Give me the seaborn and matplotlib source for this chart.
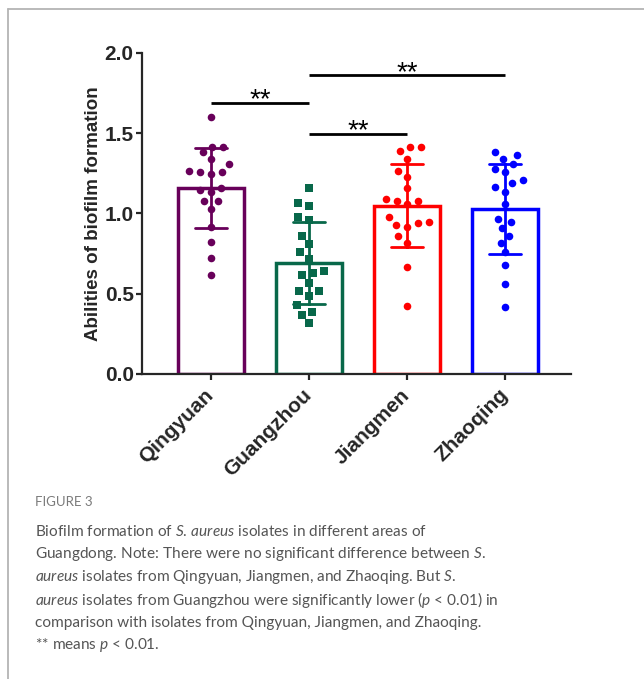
import numpy as np
import pandas as pd
import seaborn as sns
import matplotlib.pyplot as plt
from matplotlib.lines import Line2D
from matplotlib.ticker import FormatStrFormatter

# values (20 isolates per area)
areas = ["Qingyuan", "Guangzhou", "Jiangmen", "Zhaoqing"]
qingyuan = [1.603, 1.416, 1.416, 1.385, 1.340, 1.306, 1.267, 1.257, 1.257, 1.246,
            1.146, 1.136, 1.157, 1.076, 1.076, 1.026, 0.916, 0.820, 0.725, 0.617]
guangzhou = [1.159, 1.049, 1.065, 0.978, 0.957, 0.858, 0.808, 0.758, 0.718, 0.640,
             0.619, 0.629, 0.569, 0.519, 0.519, 0.488, 0.428, 0.388, 0.368, 0.318]
jiangmen = [1.416, 1.416, 1.387, 1.337, 1.267, 1.227, 1.157, 1.078, 1.078, 1.088,
            1.057, 0.947, 0.928, 0.918, 0.939, 0.978, 0.858, 0.818, 0.665, 0.426]
zhaoqing = [1.385, 1.367, 1.337, 1.306, 1.277, 1.257, 1.207, 1.188, 1.167, 1.136,
            1.057, 0.968, 0.947, 0.908, 0.858, 0.818, 0.758, 0.677, 0.559, 0.419]
colors = ["#68005a", "#08684a", "#ff0000", "#0000ff"]
markers = ["o", "s", "o", "o"]

# significance brackets: (from area, to area, height)
comparisons = [("Qingyuan", "Guangzhou", 1.69),
               ("Guangzhou", "Jiangmen", 1.497),
               ("Guangzhou", "Zhaoqing", 1.861)]

caption_title = "FIGURE 3"
caption_lines = [
    r"Biofilm formation of $\mathit{S.\,aureus}$ isolates in different areas of",
    r"Guangdong. Note: There were no significant difference between $\mathit{S.}$",
    r"$\mathit{aureus}$ isolates from Qingyuan, Jiangmen, and Zhaoqing. But $\mathit{S.}$",
    r"$\mathit{aureus}$ isolates from Guangzhou were significantly lower ($\mathit{p}$ < 0.01) in",
    r"comparison with isolates from Qingyuan, Jiangmen, and Zhaoqing.",
    r"** means $\mathit{p}$ < 0.01.",
]

df = pd.DataFrame({
    "area": np.repeat(areas, 20),
    "value": qingyuan + guangzhou + jiangmen + zhaoqing,
})

sns.set_style("ticks")
plt.rcParams["font.family"] = ["Liberation Sans", "DejaVu Sans"]
plt.rcParams["mathtext.fontset"] = "custom"
plt.rcParams["mathtext.rm"] = "Lato"
plt.rcParams["mathtext.it"] = "Lato:italic"

fig = plt.figure(figsize=(6.44, 6.79), dpi=100)
ax = fig.add_axes([0.2205, 0.4492, 0.6661, 0.4728])

for area, color, marker in zip(areas, colors, markers):
    sub = df[df["area"] == area]
    sns.barplot(data=sub, x="area", y="value", order=areas, color=color,
                fill=False, width=0.67, linewidth=2.5, errorbar="sd",
                capsize=0.33, err_kws={"color": color, "linewidth": 2}, ax=ax)
    # swarm laid out with a wider spacing, markers shrunk below (Prism look)
    sns.swarmplot(data=sub, x="area", y="value", order=areas, color=color,
                  marker=marker, size=7.6, linewidth=0, ax=ax)

# significance bars
for a, b, h in comparisons:
    x0, x1 = areas.index(a), areas.index(b)
    ax.plot([x0, x1], [h, h], color="black", lw=2, solid_capstyle="butt")
    ax.text((x0 + x1) / 2, h - 0.03, "**", ha="center", va="baseline",
            fontsize=20, color="black")

ax.set_xlim(-0.70, 3.67)
ax.set_ylim(0, 2.0)
ax.set_yticks([0, 0.5, 1.0, 1.5, 2.0])
ax.yaxis.set_major_formatter(FormatStrFormatter("%.1f"))
ax.set_xlabel("")
ax.set_ylabel("Abilities of biofilm formation", fontsize=13.5, fontweight="bold",
              labelpad=2)
sns.despine(ax=ax)
for side in ["left", "bottom"]:
    ax.spines[side].set_linewidth(1.6)
ax.tick_params(axis="both", width=1.6, length=4, labelsize=15, pad=2)
ax.tick_params(axis="x", pad=9)
for lbl in ax.get_yticklabels():
    lbl.set_fontweight("bold")
for lbl in ax.get_xticklabels():
    lbl.set_fontweight("bold")
    lbl.set_rotation(45)
    lbl.set_ha("right")
    lbl.set_va("center")
    lbl.set_rotation_mode("anchor")

# page frame (top and left rule)
fig.add_artist(Line2D([7.5 / 644, 1], [1 - 8.5 / 679, 1 - 8.5 / 679],
                      transform=fig.transFigure, color="#b4b4b4", lw=1.3))
fig.add_artist(Line2D([7.5 / 644, 7.5 / 644], [0, 1 - 8.5 / 679],
                      transform=fig.transFigure, color="#b4b4b4", lw=1.3))

# caption
fig.text(35 / 644, 1 - 502 / 679, caption_title, fontsize=9.5, color="#7a7a7a",
         family=["Lato", "DejaVu Sans"], va="center")
for i, line in enumerate(caption_lines):
    fig.text(35 / 644, 1 - (531.5 + 22.8 * i) / 679, line, fontsize=11.1,
             color="#555555", family=["Lato", "DejaVu Sans"], va="center")

# fix the swarm layout, then shrink the markers so gaps remain between them
fig.canvas.draw()
for coll in ax.collections:
    if "draw" in coll.__dict__:
        del coll.__dict__["draw"]
    coll.set_sizes([30])

plt.savefig("out.png", dpi=100)
